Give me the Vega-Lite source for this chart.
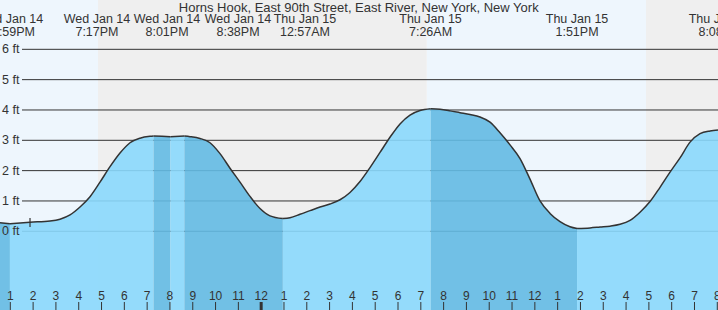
{
  "$schema": "https://vega.github.io/schema/vega-lite/v6.json",
  "width": 718,
  "height": 310,
  "autosize": {"type": "none"},
  "padding": 0,
  "background": "#ffffff",
  "config": {"view": {"stroke": null}, "font": "Liberation Sans"},
  "datasets": {
    "bg": [
      {"t0": 12.548, "t1": 16.846, "kind": "day"},
      {"t0": 16.846, "t1": 31.265, "kind": "night"},
      {"t0": 31.265, "t1": 40.874, "kind": "day"},
      {"t0": 40.874, "t1": 44.031, "kind": "night"}
    ],
    "yt": [
      {"ft": 0, "label": "0 ft"},
      {"ft": 1, "label": "1 ft"},
      {"ft": 2, "label": "2 ft"},
      {"ft": 3, "label": "3 ft"},
      {"ft": 4, "label": "4 ft"},
      {"ft": 5, "label": "5 ft"},
      {"ft": 6, "label": "6 ft"}
    ],
    "hourlabels": [
      {"t": 13, "hl": "1"}, {"t": 14, "hl": "2"}, {"t": 15, "hl": "3"}, {"t": 16, "hl": "4"},
      {"t": 17, "hl": "5"}, {"t": 18, "hl": "6"}, {"t": 19, "hl": "7"}, {"t": 20, "hl": "8"},
      {"t": 21, "hl": "9"}, {"t": 22, "hl": "10"}, {"t": 23, "hl": "11"}, {"t": 24, "hl": "12"},
      {"t": 25, "hl": "1"}, {"t": 26, "hl": "2"}, {"t": 27, "hl": "3"}, {"t": 28, "hl": "4"},
      {"t": 29, "hl": "5"}, {"t": 30, "hl": "6"}, {"t": 31, "hl": "7"}, {"t": 32, "hl": "8"},
      {"t": 33, "hl": "9"}, {"t": 34, "hl": "10"}, {"t": 35, "hl": "11"}, {"t": 36, "hl": "12"},
      {"t": 37, "hl": "1"}, {"t": 38, "hl": "2"}, {"t": 39, "hl": "3"}, {"t": 40, "hl": "4"},
      {"t": 41, "hl": "5"}, {"t": 42, "hl": "6"}, {"t": 43, "hl": "7"}, {"t": 44, "hl": "8"}
    ],
    "tide": [
      {"t": 12.548, "ft": 0.28, "seg": 1, "stage": "fall"},
      {"t": 12.983, "ft": 0.25, "seg": 1, "stage": "fall"},
      {"t": 12.983, "ft": 0.25, "seg": 2, "stage": "rise"},
      {"t": 13.864, "ft": 0.30, "seg": 2, "stage": "rise"},
      {"t": 14.741, "ft": 0.34, "seg": 2, "stage": "rise"},
      {"t": 15.179, "ft": 0.40, "seg": 2, "stage": "rise"},
      {"t": 15.618, "ft": 0.54, "seg": 2, "stage": "rise"},
      {"t": 16.056, "ft": 0.80, "seg": 2, "stage": "rise"},
      {"t": 16.495, "ft": 1.14, "seg": 2, "stage": "rise"},
      {"t": 16.933, "ft": 1.62, "seg": 2, "stage": "rise"},
      {"t": 17.372, "ft": 2.13, "seg": 2, "stage": "rise"},
      {"t": 17.810, "ft": 2.58, "seg": 2, "stage": "rise"},
      {"t": 18.249, "ft": 2.92, "seg": 2, "stage": "rise"},
      {"t": 18.687, "ft": 3.07, "seg": 2, "stage": "rise"},
      {"t": 19.126, "ft": 3.13, "seg": 2, "stage": "rise"},
      {"t": 19.283, "ft": 3.14, "seg": 2, "stage": "rise"},
      {"t": 19.283, "ft": 3.14, "seg": 3, "stage": "fall"},
      {"t": 19.650, "ft": 3.13, "seg": 3, "stage": "fall"},
      {"t": 20.017, "ft": 3.12, "seg": 3, "stage": "fall"},
      {"t": 20.017, "ft": 3.12, "seg": 4, "stage": "rise"},
      {"t": 20.633, "ft": 3.14, "seg": 4, "stage": "rise"},
      {"t": 20.633, "ft": 3.14, "seg": 5, "stage": "fall"},
      {"t": 20.879, "ft": 3.12, "seg": 5, "stage": "fall"},
      {"t": 21.318, "ft": 3.06, "seg": 5, "stage": "fall"},
      {"t": 21.756, "ft": 2.92, "seg": 5, "stage": "fall"},
      {"t": 22.195, "ft": 2.56, "seg": 5, "stage": "fall"},
      {"t": 22.633, "ft": 2.08, "seg": 5, "stage": "fall"},
      {"t": 23.072, "ft": 1.62, "seg": 5, "stage": "fall"},
      {"t": 23.510, "ft": 1.15, "seg": 5, "stage": "fall"},
      {"t": 23.949, "ft": 0.75, "seg": 5, "stage": "fall"},
      {"t": 24.387, "ft": 0.51, "seg": 5, "stage": "fall"},
      {"t": 24.950, "ft": 0.42, "seg": 5, "stage": "fall"},
      {"t": 24.950, "ft": 0.42, "seg": 6, "stage": "rise"},
      {"t": 25.264, "ft": 0.45, "seg": 6, "stage": "rise"},
      {"t": 25.703, "ft": 0.56, "seg": 6, "stage": "rise"},
      {"t": 26.141, "ft": 0.68, "seg": 6, "stage": "rise"},
      {"t": 26.580, "ft": 0.80, "seg": 6, "stage": "rise"},
      {"t": 27.018, "ft": 0.90, "seg": 6, "stage": "rise"},
      {"t": 27.457, "ft": 1.04, "seg": 6, "stage": "rise"},
      {"t": 27.895, "ft": 1.28, "seg": 6, "stage": "rise"},
      {"t": 28.334, "ft": 1.64, "seg": 6, "stage": "rise"},
      {"t": 28.772, "ft": 2.10, "seg": 6, "stage": "rise"},
      {"t": 29.211, "ft": 2.60, "seg": 6, "stage": "rise"},
      {"t": 29.649, "ft": 3.10, "seg": 6, "stage": "rise"},
      {"t": 30.088, "ft": 3.54, "seg": 6, "stage": "rise"},
      {"t": 30.526, "ft": 3.83, "seg": 6, "stage": "rise"},
      {"t": 30.965, "ft": 3.98, "seg": 6, "stage": "rise"},
      {"t": 31.433, "ft": 4.04, "seg": 6, "stage": "rise"},
      {"t": 31.433, "ft": 4.04, "seg": 7, "stage": "fall"},
      {"t": 31.842, "ft": 4.02, "seg": 7, "stage": "fall"},
      {"t": 32.280, "ft": 3.97, "seg": 7, "stage": "fall"},
      {"t": 32.719, "ft": 3.91, "seg": 7, "stage": "fall"},
      {"t": 33.157, "ft": 3.85, "seg": 7, "stage": "fall"},
      {"t": 33.596, "ft": 3.77, "seg": 7, "stage": "fall"},
      {"t": 34.034, "ft": 3.60, "seg": 7, "stage": "fall"},
      {"t": 34.473, "ft": 3.25, "seg": 7, "stage": "fall"},
      {"t": 34.911, "ft": 2.85, "seg": 7, "stage": "fall"},
      {"t": 35.350, "ft": 2.40, "seg": 7, "stage": "fall"},
      {"t": 35.788, "ft": 1.72, "seg": 7, "stage": "fall"},
      {"t": 36.227, "ft": 1.00, "seg": 7, "stage": "fall"},
      {"t": 36.665, "ft": 0.59, "seg": 7, "stage": "fall"},
      {"t": 37.104, "ft": 0.32, "seg": 7, "stage": "fall"},
      {"t": 37.542, "ft": 0.15, "seg": 7, "stage": "fall"},
      {"t": 37.850, "ft": 0.09, "seg": 7, "stage": "fall"},
      {"t": 37.850, "ft": 0.09, "seg": 8, "stage": "rise"},
      {"t": 38.420, "ft": 0.11, "seg": 8, "stage": "rise"},
      {"t": 38.858, "ft": 0.14, "seg": 8, "stage": "rise"},
      {"t": 39.297, "ft": 0.17, "seg": 8, "stage": "rise"},
      {"t": 39.735, "ft": 0.23, "seg": 8, "stage": "rise"},
      {"t": 40.174, "ft": 0.36, "seg": 8, "stage": "rise"},
      {"t": 40.612, "ft": 0.63, "seg": 8, "stage": "rise"},
      {"t": 41.051, "ft": 0.98, "seg": 8, "stage": "rise"},
      {"t": 41.489, "ft": 1.45, "seg": 8, "stage": "rise"},
      {"t": 41.928, "ft": 1.95, "seg": 8, "stage": "rise"},
      {"t": 42.366, "ft": 2.42, "seg": 8, "stage": "rise"},
      {"t": 42.805, "ft": 2.94, "seg": 8, "stage": "rise"},
      {"t": 43.243, "ft": 3.22, "seg": 8, "stage": "rise"},
      {"t": 43.682, "ft": 3.31, "seg": 8, "stage": "rise"},
      {"t": 44.031, "ft": 3.34, "seg": 8, "stage": "rise"}
    ],
    "labels": [
      {"t": 12.987, "text": "Wed Jan 14\n12:59PM"},
      {"t": 16.800, "text": "Wed Jan 14\n7:17PM"},
      {"t": 19.871, "text": "Wed Jan 14\n8:01PM"},
      {"t": 22.985, "text": "Wed Jan 14\n8:38PM"},
      {"t": 25.920, "text": "Thu Jan 15\n12:57AM"},
      {"t": 31.425, "text": "Thu Jan 15\n7:26AM"},
      {"t": 37.849, "text": "Thu Jan 15\n1:51PM"},
      {"t": 44.118, "text": "Thu Jan 15\n8:08PM"}
    ],
    "title": [
      {"t": 28.277, "text": "Horns Hook, East 90th Street, East River, New York, New York"}
    ],
    "now": [
      {"t": 13.864, "lo": 0.14, "hi": 0.44}
    ]
  },
  "resolve": {"scale": {"color": "independent"}},
  "layer": [
    {
      "data": {"name": "bg"},
      "mark": {"type": "rect"},
      "encoding": {
        "x": {
          "field": "t0", "type": "quantitative",
          "scale": {"domain": [12.548, 44.031], "nice": false, "zero": false},
          "axis": {"orient": "top", "domain": false, "grid": false, "labels": false, "ticks": false, "title": null}
        },
        "x2": {"field": "t1"},
        "y": {"datum": 7.626, "type": "quantitative", "scale": {"domain": [-2.595, 7.626], "nice": false, "zero": false}, "axis": null},
        "y2": {"datum": -2.595},
        "color": {"field": "kind", "type": "nominal", "scale": {"domain": ["day", "night"], "range": ["#EEF6FD", "#EFEFEF"]}, "legend": null}
      }
    },
    {
      "data": {"name": "yt"},
      "mark": {"type": "rule", "color": "#333333", "strokeWidth": 1},
      "encoding": {
        "x": {"datum": 13.513, "type": "quantitative"},
        "x2": {"datum": 44.031},
        "y": {"field": "ft", "type": "quantitative", "scale": {"domain": [-2.595, 7.626], "nice": false, "zero": false}, "axis": null}
      }
    },
    {
      "data": {"name": "tide"},
      "mark": {"type": "area", "interpolate": "monotone", "opacity": 0.9},
      "encoding": {
        "x": {"field": "t", "type": "quantitative", "scale": {"domain": [12.548, 44.031], "nice": false, "zero": false}, "axis": null},
        "y": {"field": "ft", "type": "quantitative", "stack": null, "scale": {"domain": [-2.595, 7.626], "nice": false, "zero": false}, "axis": null},
        "y2": {"datum": -2.595},
        "color": {"field": "stage", "type": "nominal", "scale": {"domain": ["rise", "fall"], "range": ["#8AD8FC", "#63BAE3"]}, "legend": null},
        "detail": {"field": "seg", "type": "nominal"}
      }
    },
    {
      "data": {"name": "tide"},
      "mark": {"type": "line", "interpolate": "monotone", "color": "#333333", "strokeWidth": 1.5},
      "encoding": {
        "x": {"field": "t", "type": "quantitative", "scale": {"domain": [12.548, 44.031], "nice": false, "zero": false}, "axis": null},
        "y": {"field": "ft", "type": "quantitative", "scale": {"domain": [-2.595, 7.626], "nice": false, "zero": false}, "axis": null},
        "detail": {"field": "seg", "type": "nominal"}
      }
    },
    {
      "data": {"name": "yt"},
      "mark": {"type": "text", "align": "left", "baseline": "middle", "fontSize": 12.5, "color": "#333333", "font": "Liberation Sans"},
      "encoding": {
        "x": {"datum": 12.636, "type": "quantitative"},
        "y": {"field": "ft", "type": "quantitative", "scale": {"domain": [-2.595, 7.626], "nice": false, "zero": false}, "axis": null},
        "text": {"field": "label"}
      }
    },
    {
      "data": {"name": "hourlabels"},
      "transform": [
        {"calculate": "-2.331", "as": "tickTop"},
        {"calculate": "-2.595", "as": "tickBottom"}
      ],
      "mark": {"type": "rule", "color": "#333333", "strokeWidth": 1},
      "encoding": {
        "x": {"field": "t", "type": "quantitative", "scale": {"domain": [12.548, 44.031], "nice": false, "zero": false}, "axis": null},
        "y": {"field": "tickTop", "type": "quantitative", "scale": {"domain": [-2.595, 7.626], "nice": false, "zero": false}, "axis": null},
        "y2": {"field": "tickBottom"}
      }
    },
    {
      "data": {"name": "hourlabels"},
      "transform": [
        {"filter": "datum.t == 24"},
        {"calculate": "-2.331", "as": "tickTop"},
        {"calculate": "-2.595", "as": "tickBottom"}
      ],
      "mark": {"type": "rule", "color": "#333333", "strokeWidth": 3},
      "encoding": {
        "x": {"field": "t", "type": "quantitative", "scale": {"domain": [12.548, 44.031], "nice": false, "zero": false}, "axis": null},
        "y": {"field": "tickTop", "type": "quantitative", "scale": {"domain": [-2.595, 7.626], "nice": false, "zero": false}, "axis": null},
        "y2": {"field": "tickBottom"}
      }
    },
    {
      "data": {"name": "hourlabels"},
      "transform": [
        {"calculate": "-2.265", "as": "labelY"}
      ],
      "mark": {"type": "text", "align": "center", "baseline": "alphabetic", "fontSize": 12, "color": "#333333", "font": "Liberation Sans"},
      "encoding": {
        "x": {"field": "t", "type": "quantitative", "scale": {"domain": [12.548, 44.031], "nice": false, "zero": false}, "axis": null},
        "y": {"field": "labelY", "type": "quantitative", "scale": {"domain": [-2.595, 7.626], "nice": false, "zero": false}, "axis": null},
        "text": {"field": "hl"}
      }
    },
    {
      "data": {"name": "now"},
      "mark": {"type": "rule", "color": "#333333", "strokeWidth": 1.2},
      "encoding": {
        "x": {"field": "t", "type": "quantitative", "scale": {"domain": [12.548, 44.031], "nice": false, "zero": false}, "axis": null},
        "y": {"field": "lo", "type": "quantitative", "scale": {"domain": [-2.595, 7.626], "nice": false, "zero": false}, "axis": null},
        "y2": {"field": "hi"}
      }
    },
    {
      "data": {"name": "labels"},
      "mark": {"type": "text", "align": "center", "baseline": "alphabetic", "lineBreak": "\n", "lineHeight": 13, "fontSize": 12.5, "color": "#333333", "font": "Liberation Sans"},
      "encoding": {
        "x": {"field": "t", "type": "quantitative", "scale": {"domain": [12.548, 44.031], "nice": false, "zero": false}, "axis": null},
        "y": {"datum": 6.878, "type": "quantitative"},
        "text": {"field": "text"}
      }
    },
    {
      "data": {"name": "title"},
      "mark": {"type": "text", "align": "center", "baseline": "alphabetic", "fontSize": 13, "color": "#333333", "font": "Liberation Sans"},
      "encoding": {
        "x": {"field": "t", "type": "quantitative", "scale": {"domain": [12.548, 44.031], "nice": false, "zero": false}, "axis": null},
        "y": {"datum": 7.24, "type": "quantitative"},
        "text": {"field": "text"}
      }
    }
  ]
}
